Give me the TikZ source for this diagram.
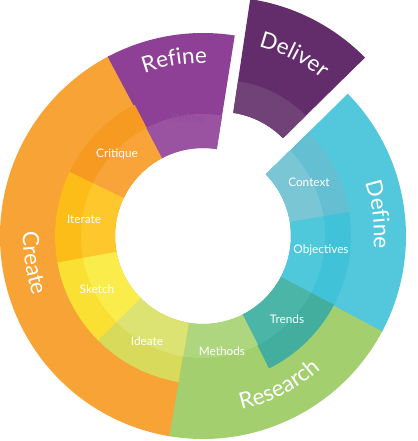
\documentclass[tikz,border=0pt]{standalone}
\usepackage{fontspec}
\newfontfamily\labelfont{Lato}
\usetikzlibrary{decorations.text}

\definecolor{defineblue}{HTML}{53C7DC}
\definecolor{contextcol}{HTML}{65BFD2}
\definecolor{contextlt}{HTML}{7AC6D4}
\definecolor{objectcol}{HTML}{40C3D8}
\definecolor{objectlt}{HTML}{4FC8DB}
\definecolor{trendcol}{HTML}{43AE9E}
\definecolor{trendlt}{HTML}{4BB5A7}
\definecolor{researchgreen}{HTML}{A3CF6F}
\definecolor{methodlt}{HTML}{AED67E}
\definecolor{ideatecol}{HTML}{D8DA5C}
\definecolor{ideatelt}{HTML}{DCE373}
\definecolor{sketchcol}{HTML}{FBE034}
\definecolor{sketchlt}{HTML}{FAEC4A}
\definecolor{iteratecol}{HTML}{FDBD19}
\definecolor{iteratelt}{HTML}{FEC82C}
\definecolor{critiquecol}{HTML}{F69A22}
\definecolor{critiquelt}{HTML}{F8A438}
\definecolor{createorange}{HTML}{F7A335}
\definecolor{refinepurple}{HTML}{8E3F96}
\definecolor{refinelt}{HTML}{9A53A1}
\definecolor{refineghost}{HTML}{944D9C}
\definecolor{deliverpurple}{HTML}{632D6C}
\definecolor{deliverlt}{HTML}{714278}

% ring segment: colour, start angle, end angle, inner r, outer r
\newcommand{\ringseg}[5]{%
  \fill[#1] (#2:#4) arc[start angle=#2, end angle=#3, radius=#4]
    -- (#3:#5) arc[start angle=#3, end angle=#2, radius=#5] -- cycle;}

\begin{document}
\begin{tikzpicture}[
  x=1pt, y=1pt,
  sublbl/.style ={text=white, inner sep=0pt,
                  font=\labelfont\fontsize{11.8}{14}\selectfont},
  ghostlbl/.style={text=refineghost, inner sep=0pt,
                  font=\labelfont\fontsize{11.8}{14}\selectfont},
  ringlbl/.style={decorate, decoration={text along path, text align=center,
                  text color=white,
                  text={|\labelfont\fontsize{22.5}{26}\selectfont|#1}}},
]
\useasboundingbox (-203,-205) rectangle (214,236);

%% ---- radii (pt, centre at origin) ----
%%  88   hole
%% 122   light inner band
%% 148   sub-step ring
%% 203   outer ring

%% ---- outer ring ----
\ringseg{createorange}{117.5}{261}{88}{203}
\ringseg{researchgreen}{-99.5}{-27.5}{88}{203}
\ringseg{defineblue}{-28}{44.5}{88}{203}
\ringseg{refinepurple}{81}{118}{88}{203}

%% ---- sub-steps ----
\ringseg{contextcol}{9}{44.5}{88}{148}
\ringseg{objectcol}{-28}{9.3}{88}{148}
\ringseg{trendcol}{-63.5}{-27.7}{88}{148}
\ringseg{ideatecol}{224.5}{260.5}{88}{148}
\ringseg{sketchcol}{190}{224.8}{88}{148}
\ringseg{iteratecol}{154}{190.3}{88}{148}
\ringseg{critiquecol}{117.5}{154.3}{88}{148}

%% ---- light inner band ----
\ringseg{contextlt}{9}{44.5}{88}{122}
\ringseg{objectlt}{-28}{9.3}{88}{122}
\ringseg{trendlt}{-63.5}{-27.7}{88}{122}
\ringseg{methodlt}{-99.5}{-63.2}{88}{122}
\ringseg{ideatelt}{224.5}{260.7}{88}{122}
\ringseg{sketchlt}{190}{224.8}{88}{122}
\ringseg{iteratelt}{154}{190.3}{88}{122}
\ringseg{critiquelt}{117.5}{154.3}{88}{122}
\ringseg{refinelt}{81}{117.7}{88}{122}

%% ---- Deliver, pulled out ----
\begin{scope}[shift={(64.5:40)}]
  \ringseg{deliverpurple}{44.5}{81.5}{88}{203}
  \ringseg{deliverlt}{44.5}{81.5}{88}{120}
  \path[ringlbl=Deliver] (81.5:158) arc[start angle=81.5, end angle=44.5, radius=158];
\end{scope}

%% ---- ring labels ----
\path[ringlbl=Refine]   (117.5:173) arc[start angle=117.5, end angle=81, radius=173];
\path[ringlbl=Define]   (42:171) arc[start angle=42, end angle=-28, radius=171];
\path[ringlbl=Research] (262:178) arc[start angle=262, end angle=332, radius=178];
\path[ringlbl=Create]   (117.5:180) arc[start angle=117.5, end angle=260.5, radius=180];

%% ---- sub-step labels ----
\node[sublbl] (context)    at (106,54)   {Context};
\node[sublbl] (objectives) at (118,-14)  {Objectives};
\node[sublbl] (trends)     at (84,-83)   {Trends};
\node[sublbl] (methods)    at (19,-115)  {Methods};
\node[sublbl] (ideate)     at (-56,-105) {Ideate};
\node[sublbl] (sketch)     at (-106,-53) {Sketch};
\node[sublbl] (iterate)    at (-119,17)  {Iterate};
\node[sublbl] (critique)   at (-86,82)   {Critique};
\node[ghostlbl] (refinein) at (-15,118)  {Refine};

\end{tikzpicture}
\end{document}
